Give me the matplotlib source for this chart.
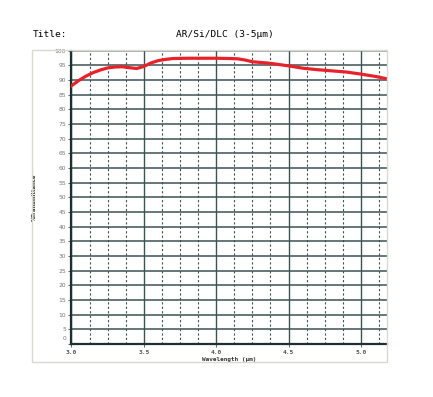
import numpy as np
import matplotlib.pyplot as plt
from matplotlib.patches import Rectangle
from matplotlib.transforms import ScaledTranslation

# wavelength (um) and transmittance (%)
wavelength = [3.00, 3.05, 3.10, 3.15, 3.20, 3.25, 3.30, 3.35, 3.40, 3.45, 3.50,
              3.55, 3.60, 3.65, 3.70, 3.80, 3.90, 4.00, 4.10, 4.15, 4.20, 4.25,
              4.30, 4.35, 4.40, 4.50, 4.60, 4.70, 4.80, 4.90, 5.00, 5.10, 5.18]
transmittance = [88.0, 89.8, 91.3, 92.5, 93.4, 94.1, 94.4, 94.5, 94.2, 93.9, 94.6,
                 95.8, 96.6, 97.0, 97.3, 97.4, 97.4, 97.4, 97.3, 97.2, 96.8, 96.2,
                 96.0, 95.8, 95.5, 94.8, 94.0, 93.5, 93.1, 92.7, 92.0, 91.2, 90.4]
x_ticks = [3.0, 3.5, 4.0, 4.5, 5.0]
x_ticklabels = ["3.0", "3.5", "4.0", "4.5", "5.0"]
y_ticks = list(range(0, 101, 5))

grid_col = "#3d5252"
mono = "DejaVu Sans Mono"

fig = plt.figure(figsize=(4.33, 3.97), dpi=100)

# light frame around the plot area
fig.patches.append(Rectangle((0.074, 0.088), 0.820, 0.786, transform=fig.transFigure,
                             fill=False, edgecolor="#d9d9d2", linewidth=1.0))

ax = fig.add_axes([0.165, 0.1335, 0.7286, 0.739])
ax.set_xlim(3.0, 5.18)
ax.set_ylim(0, 100)

# grid
for y in y_ticks:
    c = "#8a9a9a" if y == 100 else grid_col
    ax.axhline(y, color=c, lw=1.1, zorder=1)
for x in np.arange(3.0, 5.18, 0.125):
    if abs(x * 2 - round(x * 2)) < 1e-6:
        ax.axvline(x, color=grid_col, lw=1.0, zorder=1)
    else:
        ax.axvline(x, color=grid_col, lw=0.8, ls=(0, (2, 2)), zorder=1)

ax.plot(wavelength, transmittance, color="#e8222a", lw=2.3, zorder=3)

for s in ["left", "bottom"]:
    ax.spines[s].set_color("#1f2f2f")
    ax.spines[s].set_linewidth(1.6)
for s in ["top", "right"]:
    ax.spines[s].set_visible(False)

ax.set_xticks(x_ticks)
ax.set_xticklabels(x_ticklabels, fontsize=4.5, color="#555555", family=mono, fontweight="bold")
ax.set_yticks(y_ticks)
ax.set_yticklabels([str(v) for v in y_ticks], fontsize=4.3, color="#777777")
ax.tick_params(axis="both", length=2.5, width=0.6, color=grid_col, pad=1.5)

# lift the "0" label a little, as in the reference
lab0 = ax.get_yticklabels()[0]
lab0.set_transform(lab0.get_transform() + ScaledTranslation(0, 4 / 72, fig.dpi_scale_trans))

ax.set_xlabel("Wavelength (μm)", fontsize=4.3, family=mono, fontweight="bold",
              color="#333333", labelpad=1.5)
ax.set_ylabel("%Transmittance", fontsize=3.8, fontweight="bold", color="#333333", labelpad=13)

fig.text(0.076, 0.912, "Title:", fontsize=6.8, family=mono, va="center", ha="left")
fig.text(0.52, 0.912, "AR/Si/DLC (3-5μm)", fontsize=6.8, family=mono, va="center", ha="center")

fig.savefig("out.png", dpi=100)
